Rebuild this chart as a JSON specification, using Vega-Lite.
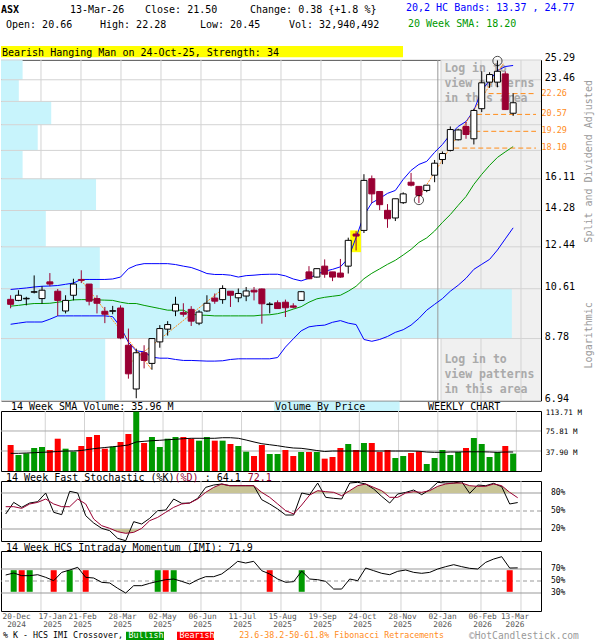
{
  "$schema": "https://vega.github.io/schema/vega-lite/v6.json",
  "padding": 0,
  "background": "white",
  "bounds": "flush",
  "spacing": 10,
  "config": {
    "view": {"stroke": "black", "strokeWidth": 1},
    "text": {"font": "DejaVu Sans Mono"},
    "axis": {"labelFont": "DejaVu Sans Mono"}
  },
  "datasets": {
    "weeks": [
      {"i":0,"o":10.19,"h":10.35,"l":9.85,"c":10.00,"v":49.3,"vc":"d","vs":33.5,"ub":10.58,"lb":9.27,"ma":9.93,"k":45,"d":57.2,"m":60},
      {"i":1,"o":10.15,"h":10.55,"l":10.12,"c":10.35,"v":30.3,"vc":"u","vs":33.5,"ub":10.61,"lb":9.31,"ma":9.96,"k":64.4,"d":57.2,"m":63.3},
      {"i":2,"o":10.21,"h":10.29,"l":9.96,"c":10.23,"v":33.5,"vc":"u","vs":34.1,"ub":10.64,"lb":9.35,"ma":10.00,"k":56.1,"d":54.4,"m":58.9},
      {"i":3,"o":10.47,"h":11.16,"l":10.42,"c":10.49,"v":43.6,"vc":"u","vs":34.7,"ub":10.68,"lb":9.35,"ma":10.03,"k":63.3,"d":61.7,"m":58.9},
      {"i":4,"o":10.22,"h":10.71,"l":10.02,"c":10.55,"v":45.5,"vc":"u","vs":35.4,"ub":10.71,"lb":9.35,"ma":10.03,"k":65.5,"d":64.4,"m":60.5},
      {"i":5,"o":10.89,"h":11.26,"l":10.71,"c":10.80,"v":39.8,"vc":"d","vs":36.0,"ub":10.72,"lb":9.45,"ma":10.04,"k":80,"d":70,"m":56.1},
      {"i":6,"o":10.51,"h":10.60,"l":9.57,"c":10.15,"v":61.2,"vc":"d","vs":37.0,"ub":10.74,"lb":9.57,"ma":10.08,"k":47.8,"d":61.7,"m":50.5},
      {"i":7,"o":9.75,"h":10.35,"l":9.66,"c":10.15,"v":42.3,"vc":"u","vs":37.9,"ub":10.79,"lb":9.57,"ma":10.12,"k":43.9,"d":57.2,"m":64.4},
      {"i":8,"o":10.35,"h":11.02,"l":10.15,"c":10.80,"v":36.6,"vc":"u","vs":37.9,"ub":10.84,"lb":9.57,"ma":10.17,"k":82.8,"d":57.2,"m":68.3},
      {"i":9,"o":10.99,"h":11.38,"l":10.84,"c":10.95,"v":47.4,"vc":"d","vs":38.8,"ub":10.99,"lb":9.57,"ma":10.18,"k":80,"d":70,"m":72.8},
      {"i":10,"o":10.80,"h":10.80,"l":9.96,"c":10.12,"v":64.4,"vc":"d","vs":41.1,"ub":10.99,"lb":9.57,"ma":10.18,"k":42.2,"d":61.7,"m":56.1},
      {"i":11,"o":10.22,"h":10.35,"l":9.66,"c":10.04,"v":68.2,"vc":"d","vs":43.0,"ub":10.99,"lb":9.57,"ma":10.17,"k":30,"d":36.6,"m":55},
      {"i":12,"o":9.74,"h":9.90,"l":9.31,"c":9.63,"v":42.3,"vc":"d","vs":44.5,"ub":10.99,"lb":9.57,"ma":10.16,"k":21.1,"d":25.5,"m":47.8},
      {"i":13,"o":9.74,"h":9.94,"l":9.63,"c":9.76,"v":46.1,"vc":"u","vs":46.0,"ub":11.01,"lb":9.54,"ma":10.15,"k":17.2,"d":21.1,"m":46.7},
      {"i":14,"o":9.86,"h":9.96,"l":8.76,"c":8.80,"v":55.0,"vc":"d","vs":47.4,"ub":11.09,"lb":9.18,"ma":10.08,"k":4.4,"d":15.5,"m":37.8},
      {"i":15,"o":8.56,"h":9.12,"l":7.54,"c":7.68,"v":70.1,"vc":"d","vs":49.3,"ub":11.45,"lb":8.66,"ma":10.03,"k":0.5,"d":12.8,"m":30},
      {"i":16,"o":7.25,"h":8.45,"l":7.00,"c":8.32,"v":112.4,"vc":"u","vs":55.0,"ub":11.60,"lb":8.38,"ma":10.03,"k":32.2,"d":14.4,"m":42.2},
      {"i":17,"o":8.32,"h":8.56,"l":7.84,"c":8.08,"v":53.1,"vc":"d","vs":56.3,"ub":11.67,"lb":8.35,"ma":9.96,"k":28.3,"d":21.1,"m":42.2},
      {"i":18,"o":7.99,"h":8.78,"l":7.80,"c":8.78,"v":64.4,"vc":"u","vs":57.4,"ub":11.67,"lb":8.18,"ma":9.90,"k":37.8,"d":33.9,"m":46.1},
      {"i":19,"o":8.67,"h":9.24,"l":8.48,"c":9.12,"v":45.5,"vc":"u","vs":58.2,"ub":11.67,"lb":8.15,"ma":9.84,"k":50.5,"d":39.4,"m":49.4},
      {"i":20,"o":9.10,"h":9.38,"l":8.88,"c":9.26,"v":61.2,"vc":"u","vs":59.3,"ub":11.67,"lb":8.15,"ma":9.78,"k":51.6,"d":47.8,"m":52.2},
      {"i":21,"o":9.75,"h":10.29,"l":9.56,"c":10.00,"v":64.4,"vc":"u","vs":60.1,"ub":11.63,"lb":8.11,"ma":9.78,"k":70,"d":56.1,"m":53.3},
      {"i":22,"o":9.69,"h":10.04,"l":9.54,"c":9.63,"v":64.4,"vc":"d","vs":61.2,"ub":11.56,"lb":8.08,"ma":9.78,"k":62.8,"d":61.7,"m":49.4},
      {"i":23,"o":9.81,"h":9.93,"l":9.21,"c":9.38,"v":61.2,"vc":"d","vs":62.0,"ub":11.50,"lb":8.08,"ma":9.63,"k":63.3,"d":63.3,"m":45},
      {"i":24,"o":9.31,"h":9.78,"l":9.24,"c":9.71,"v":57.5,"vc":"u","vs":62.0,"ub":11.38,"lb":8.07,"ma":9.60,"k":71.1,"d":70,"m":52.2},
      {"i":25,"o":9.75,"h":10.35,"l":9.72,"c":10.04,"v":64.4,"vc":"u","vs":62.0,"ub":11.24,"lb":8.06,"ma":9.59,"k":89.4,"d":81.1,"m":57.2},
      {"i":26,"o":10.24,"h":10.42,"l":10.02,"c":10.12,"v":57.5,"vc":"d","vs":62.0,"ub":11.20,"lb":8.06,"ma":9.57,"k":93.3,"d":89.4,"m":57.2},
      {"i":27,"o":10.18,"h":10.75,"l":10.02,"c":10.62,"v":57.5,"vc":"u","vs":63.1,"ub":11.20,"lb":8.07,"ma":9.57,"k":95,"d":95,"m":61.7},
      {"i":28,"o":10.51,"h":10.51,"l":9.90,"c":10.35,"v":51.2,"vc":"d","vs":63.1,"ub":11.17,"lb":8.11,"ma":9.57,"k":92.2,"d":92.2,"m":71.6},
      {"i":29,"o":10.25,"h":10.62,"l":10.08,"c":10.42,"v":47.4,"vc":"u","vs":62.0,"ub":11.09,"lb":8.13,"ma":9.57,"k":92.2,"d":92.2,"m":82.8},
      {"i":30,"o":10.32,"h":10.68,"l":10.12,"c":10.52,"v":36.6,"vc":"u","vs":58.7,"ub":11.15,"lb":8.13,"ma":9.57,"k":92.2,"d":92.2,"m":80},
      {"i":31,"o":10.55,"h":10.68,"l":10.15,"c":10.48,"v":28.4,"vc":"d","vs":55.0,"ub":11.17,"lb":8.13,"ma":9.57,"k":92.2,"d":92.2,"m":82.8},
      {"i":32,"o":10.60,"h":10.62,"l":9.29,"c":10.02,"v":49.3,"vc":"d","vs":51.7,"ub":11.20,"lb":8.13,"ma":9.60,"k":68.9,"d":81.1,"m":67.2},
      {"i":33,"o":9.99,"h":10.08,"l":9.66,"c":10.01,"v":32.2,"vc":"u","vs":49.8,"ub":11.21,"lb":8.13,"ma":9.61,"k":61.7,"d":72.8,"m":61.7},
      {"i":34,"o":10.06,"h":10.15,"l":9.84,"c":9.84,"v":32.2,"vc":"u","vs":47.9,"ub":11.21,"lb":8.17,"ma":9.65,"k":53.3,"d":61.7,"m":53.3},
      {"i":35,"o":10.08,"h":10.18,"l":9.53,"c":9.87,"v":39.8,"vc":"d","vs":45.5,"ub":11.14,"lb":8.50,"ma":9.72,"k":43.3,"d":50.5,"m":47.8},
      {"i":36,"o":9.94,"h":10.04,"l":9.85,"c":9.89,"v":28.4,"vc":"d","vs":43.6,"ub":11.01,"lb":8.77,"ma":9.82,"k":43.3,"d":45,"m":48.9},
      {"i":37,"o":10.15,"h":10.52,"l":10.13,"c":10.49,"v":36.0,"vc":"u","vs":43.0,"ub":10.93,"lb":9.04,"ma":9.91,"k":80,"d":60,"m":66.6},
      {"i":38,"o":11.31,"h":11.56,"l":11.00,"c":11.02,"v":36.0,"vc":"d","vs":41.1,"ub":11.04,"lb":9.18,"ma":10.08,"k":77.2,"d":76.6,"m":53.3},
      {"i":39,"o":11.09,"h":11.45,"l":11.07,"c":11.45,"v":36.0,"vc":"u","vs":38.8,"ub":11.21,"lb":9.22,"ma":10.21,"k":96.6,"d":83.9,"m":52.2},
      {"i":40,"o":11.56,"h":11.86,"l":11.06,"c":11.21,"v":23.4,"vc":"d","vs":37.0,"ub":11.34,"lb":9.24,"ma":10.27,"k":72.8,"d":82.2,"m":49.4},
      {"i":41,"o":11.31,"h":11.31,"l":10.92,"c":11.09,"v":26.5,"vc":"d","vs":37.9,"ub":11.42,"lb":9.34,"ma":10.31,"k":71.1,"d":81.1,"m":36.6},
      {"i":42,"o":11.26,"h":11.88,"l":11.06,"c":11.09,"v":43.6,"vc":"d","vs":37.9,"ub":11.53,"lb":9.40,"ma":10.35,"k":70,"d":75.5,"m":36.6},
      {"i":43,"o":11.56,"h":12.88,"l":11.24,"c":12.75,"v":51.2,"vc":"u","vs":37.9,"ub":11.91,"lb":9.31,"ma":10.51,"k":96.6,"d":83.9,"m":53.3},
      {"i":44,"o":13.06,"h":13.20,"l":12.27,"c":12.96,"v":39.8,"vc":"d","vs":37.9,"ub":12.89,"lb":9.26,"ma":10.71,"k":97.8,"d":92.2,"m":50.5},
      {"i":45,"o":13.24,"h":16.39,"l":13.11,"c":16.01,"v":53.1,"vc":"u","vs":37.9,"ub":14.02,"lb":8.75,"ma":11.02,"k":95,"d":95,"m":71.6},
      {"i":46,"o":16.11,"h":16.31,"l":14.69,"c":15.21,"v":53.1,"vc":"d","vs":37.9,"ub":14.70,"lb":8.69,"ma":11.25,"k":86.6,"d":89.4,"m":67.2},
      {"i":47,"o":15.35,"h":15.35,"l":14.30,"c":14.60,"v":36.0,"vc":"d","vs":37.9,"ub":14.95,"lb":8.75,"ma":11.44,"k":74.4,"d":83.9,"m":62.8},
      {"i":48,"o":14.29,"h":14.63,"l":13.37,"c":13.84,"v":39.8,"vc":"d","vs":37.9,"ub":15.24,"lb":8.85,"ma":11.64,"k":63.3,"d":72.8,"m":60.5},
      {"i":49,"o":13.88,"h":14.93,"l":13.72,"c":14.93,"v":24.6,"vc":"u","vs":37.9,"ub":15.41,"lb":8.99,"ma":11.82,"k":78.3,"d":72.8,"m":66.1},
      {"i":50,"o":14.71,"h":15.30,"l":14.64,"c":15.21,"v":28.4,"vc":"u","vs":37.9,"ub":16.07,"lb":9.08,"ma":12.06,"k":81,"d":80,"m":68.3},
      {"i":51,"o":15.90,"h":16.47,"l":15.65,"c":15.72,"v":34.1,"vc":"d","vs":37.9,"ub":16.63,"lb":9.24,"ma":12.32,"k":85,"d":82.2,"m":64.4},
      {"i":52,"o":15.65,"h":15.65,"l":14.69,"c":15.13,"v":37.3,"vc":"d","vs":37.5,"ub":17.01,"lb":9.48,"ma":12.65,"k":77.2,"d":81.1,"m":62.8},
      {"i":53,"o":15.41,"h":15.72,"l":15.31,"c":15.72,"v":13.3,"vc":"u","vs":36.0,"ub":17.21,"lb":9.78,"ma":12.87,"k":85.5,"d":83.9,"m":64.4},
      {"i":54,"o":16.33,"h":17.30,"l":15.90,"c":17.09,"v":24.6,"vc":"u","vs":35.4,"ub":17.81,"lb":10.00,"ma":13.21,"k":97.8,"d":91.1,"m":70},
      {"i":55,"o":17.33,"h":17.87,"l":17.03,"c":17.73,"v":39.8,"vc":"u","vs":35.4,"ub":18.35,"lb":10.22,"ma":13.65,"k":96.6,"d":95,"m":73.9},
      {"i":56,"o":17.94,"h":19.65,"l":17.87,"c":19.42,"v":30.3,"vc":"u","vs":36.0,"ub":19.06,"lb":10.51,"ma":14.06,"k":96.6,"d":96.6,"m":77.2},
      {"i":57,"o":18.68,"h":19.48,"l":18.63,"c":19.39,"v":36.0,"vc":"u","vs":36.0,"ub":19.65,"lb":10.75,"ma":14.56,"k":98.9,"d":96.6,"m":73.9},
      {"i":58,"o":19.65,"h":19.99,"l":18.75,"c":19.06,"v":43.6,"vc":"d","vs":36.4,"ub":20.02,"lb":11.04,"ma":15.06,"k":79.4,"d":92.2,"m":71.1},
      {"i":59,"o":18.75,"h":21.02,"l":18.35,"c":20.88,"v":62.5,"vc":"u","vs":36.4,"ub":20.88,"lb":11.42,"ma":15.77,"k":93.3,"d":91.1,"m":70},
      {"i":60,"o":21.02,"h":24.23,"l":20.75,"c":23.19,"v":51.2,"vc":"u","vs":36.4,"ub":22.52,"lb":11.64,"ma":16.38,"k":92.2,"d":91.1,"m":81.1},
      {"i":61,"o":23.25,"h":24.14,"l":22.75,"c":23.93,"v":26.5,"vc":"u","vs":36.0,"ub":23.40,"lb":11.86,"ma":16.95,"k":96.1,"d":95,"m":86.6},
      {"i":62,"o":23.25,"h":25.25,"l":22.80,"c":24.23,"v":36.0,"vc":"u","vs":35.4,"ub":24.30,"lb":12.29,"ma":17.47,"k":90.5,"d":92.2,"m":90.5},
      {"i":63,"o":23.99,"h":24.23,"l":20.92,"c":20.95,"v":47.4,"vc":"d","vs":36.0,"ub":24.67,"lb":12.82,"ma":17.84,"k":61.7,"d":81.1,"m":71.6},
      {"i":64,"o":20.66,"h":22.28,"l":20.45,"c":21.50,"v":32.94,"vc":"u","vs":35.96,"ub":24.77,"lb":13.37,"ma":18.20,"k":64.1,"d":72.1,"m":71.9}
    ],
    "xgrid": [{"g":4.41},{"g":9.41},{"g":14.41},{"g":19.41},{"g":24.41},{"g":29.41},{"g":34.41},{"g":39.41},{"g":44.41},{"g":49.41},{"g":54.41},{"g":59.41},{"g":64.41}],
    "pgrid": [{"v":6.94},{"v":8.78},{"v":10.61},{"v":12.44},{"v":14.28},{"v":16.11},{"v":17.94},{"v":19.78},{"v":21.61},{"v":23.46},{"v":25.29}],
    "plab": [{"v":6.94},{"v":8.78},{"v":10.61},{"v":12.44},{"v":14.28},{"v":16.11},{"v":23.46},{"v":25.29}],
    "vbp": [
      {"lo":6.94,"hi":8.78,"vol":193},{"lo":8.78,"hi":10.61,"vol":946},{"lo":10.61,"hi":12.44,"vol":183},
      {"lo":12.44,"hi":14.28,"vol":83},{"lo":14.28,"hi":16.11,"vol":176},{"lo":16.11,"hi":17.94,"vol":40},
      {"lo":17.94,"hi":19.78,"vol":68},{"lo":19.78,"hi":21.61,"vol":93},{"lo":21.61,"hi":23.46,"vol":33},
      {"lo":23.46,"hi":25.29,"vol":40}
    ],
    "fib": [{"x0":60.87,"lvl":22.26},{"x0":59.41,"lvl":20.57},{"x0":58.16,"lvl":19.29},{"x0":56.5,"lvl":18.10}],
    "zig": [
      {"s":"a","i":9,"p":10.95},{"s":"a","i":18,"p":7.80},
      {"s":"b","i":15.04,"p":7.97},{"s":"b","i":27.1,"p":10.62},
      {"s":"c","i":52,"p":15.03},{"s":"c","i":62.75,"p":24.93}
    ],
    "circ": [{"i":52,"p":14.86},{"i":62,"p":25.2}],
    "xover": [
      {"i":1,"s":"Bullish"},{"i":2,"s":"Bearish"},{"i":3,"s":"Bullish"},{"i":6,"s":"Bearish"},
      {"i":8,"s":"Bullish"},{"i":10,"s":"Bearish"},{"i":19,"s":"Bullish"},{"i":20,"s":"Bearish"},
      {"i":21,"s":"Bullish"},{"i":33,"s":"Bearish"},{"i":37,"s":"Bullish"},{"i":63,"s":"Bearish"}
    ]
  },
  "vconcat": [
    {
      "width": 600,
      "height": 49.5,
      "view": {"stroke": null},
      "data": {"values": [{}]},
      "layer": [
        {
          "mark": {"type": "rect", "color": "#ffff00"},
          "encoding": {
            "x": {"datum": 0, "type": "quantitative", "scale": {"domain": [0, 600], "nice": false, "zero": false}, "axis": null},
            "x2": {"datum": 402},
            "y": {"datum": 46, "type": "quantitative", "scale": {"domain": [0, 49.5], "nice": false, "zero": false, "reverse": true}, "axis": null},
            "y2": {"datum": 57.3}
          }
        },
        {"mark": {"type": "text", "align": "left", "baseline": "alphabetic", "fontSize": 10, "fontWeight": "bold"},
         "encoding": {"x": {"datum": 0, "type": "quantitative"}, "y": {"datum": 13, "type": "quantitative"}, "text": {"value": "ASX"}}},
        {"mark": {"type": "text", "align": "left", "baseline": "alphabetic", "fontSize": 10},
         "encoding": {"x": {"datum": 69, "type": "quantitative"}, "y": {"datum": 13, "type": "quantitative"}, "text": {"value": "13-Mar-26"}}},
        {"mark": {"type": "text", "align": "left", "baseline": "alphabetic", "fontSize": 10},
         "encoding": {"x": {"datum": 144, "type": "quantitative"}, "y": {"datum": 13, "type": "quantitative"}, "text": {"value": "Close: 21.50"}}},
        {"mark": {"type": "text", "align": "left", "baseline": "alphabetic", "fontSize": 10},
         "encoding": {"x": {"datum": 249, "type": "quantitative"}, "y": {"datum": 13, "type": "quantitative"}, "text": {"value": "Change: 0.38 {+1.8 %}"}}},
        {"mark": {"type": "text", "align": "left", "baseline": "alphabetic", "fontSize": 10, "color": "#0000ff"},
         "encoding": {"x": {"datum": 405, "type": "quantitative"}, "y": {"datum": 10.7, "type": "quantitative"}, "text": {"value": "20,2 HC Bands: 13.37 , 24.77"}}},
        {"mark": {"type": "text", "align": "left", "baseline": "alphabetic", "fontSize": 10},
         "encoding": {"x": {"datum": 5, "type": "quantitative"}, "y": {"datum": 28.3, "type": "quantitative"}, "text": {"value": "Open: 20.66"}}},
        {"mark": {"type": "text", "align": "left", "baseline": "alphabetic", "fontSize": 10},
         "encoding": {"x": {"datum": 99, "type": "quantitative"}, "y": {"datum": 28.3, "type": "quantitative"}, "text": {"value": "High: 22.28"}}},
        {"mark": {"type": "text", "align": "left", "baseline": "alphabetic", "fontSize": 10},
         "encoding": {"x": {"datum": 199, "type": "quantitative"}, "y": {"datum": 28.3, "type": "quantitative"}, "text": {"value": "Low: 20.45"}}},
        {"mark": {"type": "text", "align": "left", "baseline": "alphabetic", "fontSize": 10},
         "encoding": {"x": {"datum": 288, "type": "quantitative"}, "y": {"datum": 28.3, "type": "quantitative"}, "text": {"value": "Vol: 32,940,492"}}},
        {"mark": {"type": "text", "align": "left", "baseline": "alphabetic", "fontSize": 10, "color": "#009900"},
         "encoding": {"x": {"datum": 407, "type": "quantitative"}, "y": {"datum": 26.7, "type": "quantitative"}, "text": {"value": "20 Week SMA: 18.20"}}},
        {"mark": {"type": "text", "align": "left", "baseline": "alphabetic", "fontSize": 10},
         "encoding": {"x": {"datum": 1, "type": "quantitative"}, "y": {"datum": 56.2, "type": "quantitative"}, "text": {"value": "Bearish Hanging Man on 24-Oct-25, Strength: 34"}}}
      ]
    },
    {
      "width": 540,
      "height": 340.5,
      "data": {"name": "weeks"},
      "resolve": {"scale": {"x": "independent"}},
      "layer": [
        {
          "layer": [
            {
              "data": {"values": [{"x0": 54.41, "x1": 66.9125, "p0": 6.94, "p1": 25.29}]},
              "mark": {"type": "rect", "color": "#f0f0f0"},
              "encoding": {
                "x": {"field": "x0", "type": "quantitative", "scale": {"domain": [-0.5875, 66.9125], "nice": false, "zero": false}, "axis": null},
                "x2": {"field": "x1"},
                "y": {"field": "p0", "type": "quantitative", "scale": {"type": "log", "domain": [6.94, 25.29], "nice": false, "zero": false}, "axis": null},
                "y2": {"field": "p1"}
              }
            },
            {
              "data": {"name": "xgrid"},
              "mark": {"type": "rule", "color": "#d3d3d3"},
              "encoding": {"x": {"field": "g", "type": "quantitative", "axis": null}}
            }
          ]
        },
        {
          "data": {"name": "vbp"},
          "mark": {"type": "rect", "color": "#c8f4fc"},
          "encoding": {
            "x": {"field": "vol", "type": "quantitative", "scale": {"domain": [0, 1000], "nice": false, "zero": true}, "axis": null},
            "x2": {"datum": 0},
            "y": {"field": "lo", "type": "quantitative", "axis": null},
            "y2": {"field": "hi"}
          }
        },
        {
          "layer": [
            {
              "data": {"name": "pgrid"},
              "mark": {"type": "rule", "color": "#d3d3d3"},
              "encoding": {
                "y": {"field": "v", "type": "quantitative", "scale": {"type": "log", "domain": [6.94, 25.29], "nice": false, "zero": false}, "axis": null}
              }
            },
            {
              "data": {"values": [{"g": 54.41}]},
              "mark": {"type": "rule", "color": "#999999"},
              "encoding": {"x": {"field": "g", "type": "quantitative", "scale": {"domain": [-0.5875, 66.9125], "nice": false, "zero": false}, "axis": null}}
            },
            {
              "data": {"values": [{}]},
              "mark": {"type": "text", "align": "left", "baseline": "alphabetic", "fontSize": 11.5, "fontWeight": "bold", "color": "#aaaaaa", "lineHeight": 15},
              "encoding": {"x": {"datum": 55.25, "type": "quantitative"}, "y": {"datum": 24.14, "type": "quantitative"}, "text": {"value": ["Log in to", "view patterns", "in this area"]}}
            },
            {
              "data": {"values": [{}]},
              "mark": {"type": "text", "align": "left", "baseline": "alphabetic", "fontSize": 11.5, "fontWeight": "bold", "color": "#aaaaaa", "lineHeight": 15},
              "encoding": {"x": {"datum": 55.25, "type": "quantitative"}, "y": {"datum": 7.99, "type": "quantitative"}, "text": {"value": ["Log in to", "view patterns", "in this area"]}}
            },
            {
              "data": {"values": [{"x0": 43.25, "x1": 44.62, "p0": 12.19, "p1": 13.24}]},
              "mark": {"type": "rect", "color": "#ffff00"},
              "encoding": {"x": {"field": "x0", "type": "quantitative"}, "x2": {"field": "x1"}, "y": {"field": "p0", "type": "quantitative"}, "y2": {"field": "p1"}}
            },
            {
              "mark": {"type": "line", "color": "#0000ff", "strokeWidth": 1},
              "encoding": {"x": {"field": "i", "type": "quantitative"}, "y": {"field": "ub", "type": "quantitative"}}
            },
            {
              "mark": {"type": "line", "color": "#0000ff", "strokeWidth": 1},
              "encoding": {"x": {"field": "i", "type": "quantitative"}, "y": {"field": "lb", "type": "quantitative"}}
            },
            {
              "mark": {"type": "line", "color": "#009900", "strokeWidth": 1},
              "encoding": {"x": {"field": "i", "type": "quantitative"}, "y": {"field": "ma", "type": "quantitative"}}
            },
            {
              "data": {"name": "fib"},
              "mark": {"type": "rule", "color": "#ff8c1a", "strokeDash": [5, 3]},
              "encoding": {"x": {"field": "x0", "type": "quantitative"}, "x2": {"datum": 66.9125}, "y": {"field": "lvl", "type": "quantitative"}}
            },
            {
              "data": {"name": "fib"},
              "mark": {"type": "text", "align": "left", "baseline": "middle", "fontSize": 8.5, "color": "#ff8c1a", "dy": -1},
              "encoding": {"x": {"datum": 67.6, "type": "quantitative"}, "y": {"field": "lvl", "type": "quantitative"}, "text": {"field": "lvl", "type": "quantitative", "format": ".2f"}}
            },
            {
              "data": {"name": "plab"},
              "mark": {"type": "text", "align": "left", "baseline": "middle", "fontSize": 10, "color": "black", "dy": -2},
              "encoding": {"x": {"datum": 68.04, "type": "quantitative"}, "y": {"field": "v", "type": "quantitative"}, "text": {"field": "v", "type": "quantitative", "format": ".2f"}}
            },
            {
              "data": {"name": "zig"},
              "mark": {"type": "line", "color": "#ff8c1a", "strokeWidth": 1, "strokeDash": [2, 1]},
              "encoding": {"x": {"field": "i", "type": "quantitative"}, "y": {"field": "p", "type": "quantitative"}, "detail": {"field": "s", "type": "nominal"}}
            },
            {
              "mark": {"type": "rule", "strokeWidth": 1},
              "encoding": {
                "x": {"field": "i", "type": "quantitative"},
                "y": {"field": "l", "type": "quantitative"},
                "y2": {"field": "h"},
                "color": {"condition": {"test": "datum.c >= datum.o", "value": "black"}, "value": "#990033"}
              }
            },
            {
              "mark": {"type": "bar", "width": 6, "strokeWidth": 1},
              "encoding": {
                "x": {"field": "i", "type": "quantitative"},
                "y": {"field": "o", "type": "quantitative"},
                "y2": {"field": "c"},
                "fill": {"condition": {"test": "datum.c >= datum.o", "value": "white"}, "value": "#990033"},
                "stroke": {"condition": {"test": "datum.c >= datum.o", "value": "black"}, "value": "#990033"}
              }
            },
            {
              "data": {"name": "circ"},
              "mark": {"type": "point", "shape": "circle", "filled": false, "color": "black", "size": 85, "strokeWidth": 1},
              "encoding": {"x": {"field": "i", "type": "quantitative"}, "y": {"field": "p", "type": "quantitative"}}
            },
            {
              "data": {"values": [{}]},
              "mark": {"type": "text", "align": "center", "baseline": "middle", "fontSize": 10, "color": "#999999", "angle": 270},
              "encoding": {"x": {"datum": 73.66, "type": "quantitative"}, "y": {"datum": 17.21, "type": "quantitative"}, "text": {"value": "Split and Dividend Adjusted"}}
            },
            {
              "data": {"values": [{}]},
              "mark": {"type": "text", "align": "center", "baseline": "middle", "fontSize": 10, "color": "#999999", "angle": 270},
              "encoding": {"x": {"datum": 73.66, "type": "quantitative"}, "y": {"datum": 8.89, "type": "quantitative"}, "text": {"value": "Logarithmic"}}
            }
          ]
        }
      ]
    },
    {
      "width": 540,
      "height": 60,
      "data": {"name": "weeks"},
      "layer": [
        {
          "data": {"name": "xgrid"},
          "mark": {"type": "rule", "color": "#d3d3d3"},
          "encoding": {"x": {"field": "g", "type": "quantitative", "scale": {"domain": [-0.5875, 66.9125], "nice": false, "zero": false}, "axis": null}}
        },
        {
          "data": {"values": [{"v": 37.9}, {"v": 75.81}]},
          "mark": {"type": "rule", "color": "#aaaaaa"},
          "encoding": {
            "y": {"field": "v", "type": "quantitative", "scale": {"domain": [0, 113.71], "nice": false}, "axis": null}
          }
        },
        {
          "mark": {"type": "bar", "width": 6},
          "encoding": {
            "x": {"field": "i", "type": "quantitative"},
            "y": {"field": "v", "type": "quantitative"},
            "color": {"field": "vc", "type": "nominal", "scale": {"domain": ["u", "d"], "range": ["#009900", "#ff0000"]}, "legend": null}
          }
        },
        {
          "mark": {"type": "line", "color": "black", "strokeWidth": 1},
          "encoding": {"x": {"field": "i", "type": "quantitative"}, "y": {"field": "vs", "type": "quantitative"}}
        },
        {
          "data": {"values": [{"v": 37.9, "t": "37.90 M"}, {"v": 75.81, "t": "75.81 M"}, {"v": 113.71, "t": "113.71 M"}]},
          "mark": {"type": "text", "align": "left", "baseline": "middle", "fontSize": 7.5, "color": "black", "dy": 1.5},
          "encoding": {"x": {"datum": 68.16, "type": "quantitative"}, "y": {"field": "v", "type": "quantitative"}, "text": {"field": "t", "type": "nominal"}}
        },
        {
          "data": {"values": [{"x0": 33.54, "x1": 49.54, "y0": 113.71, "y1": 131.7}]},
          "mark": {"type": "rect", "color": "#c8f4fc"},
          "encoding": {"x": {"field": "x0", "type": "quantitative"}, "x2": {"field": "x1"}, "y": {"field": "y0", "type": "quantitative"}, "y2": {"field": "y1"}}
        },
        {
          "data": {"values": [{}]},
          "mark": {"type": "text", "align": "left", "baseline": "alphabetic", "fontSize": 10},
          "encoding": {"x": {"datum": 0.04, "type": "quantitative"}, "y": {"datum": 114.66, "type": "quantitative"}, "text": {"value": "14 Week SMA Volume: 35.96 M"}}
        },
        {
          "data": {"values": [{}]},
          "mark": {"type": "text", "align": "left", "baseline": "alphabetic", "fontSize": 10},
          "encoding": {"x": {"datum": 33.66, "type": "quantitative"}, "y": {"datum": 114.66, "type": "quantitative"}, "text": {"value": "Volume By Price"}}
        },
        {
          "data": {"values": [{}]},
          "mark": {"type": "text", "align": "left", "baseline": "alphabetic", "fontSize": 10},
          "encoding": {"x": {"datum": 53.16, "type": "quantitative"}, "y": {"datum": 114.66, "type": "quantitative"}, "text": {"value": "WEEKLY CHART"}}
        }
      ]
    },
    {
      "width": 540,
      "height": 60,
      "data": {"name": "weeks"},
      "resolve": {"scale": {"y": "independent"}},
      "layer": [
        {
          "layer": [
            {
              "data": {"name": "xgrid"},
              "mark": {"type": "rule", "color": "#d3d3d3"},
              "encoding": {"x": {"field": "g", "type": "quantitative", "scale": {"domain": [-0.5875, 66.9125], "nice": false, "zero": false}, "axis": null}}
            },
            {
              "data": {"values": [{"v": 20}, {"v": 80}]},
              "mark": {"type": "rule", "color": "#999999"},
              "encoding": {"y": {"field": "v", "type": "quantitative", "scale": {"domain": [0, 100], "nice": false}, "axis": null}}
            },
            {
              "data": {"values": [{"v": 50}]},
              "mark": {"type": "rule", "color": "#999999", "strokeDash": [4, 3]},
              "encoding": {"y": {"field": "v", "type": "quantitative", "axis": null}}
            }
          ]
        },
        {
          "mark": {"type": "area", "color": "#c8c496"},
          "encoding": {
            "x": {"field": "i", "type": "quantitative", "axis": null},
            "y": {"field": "d", "type": "quantitative", "scale": {"domain": [80, 100], "range": [12, 0], "clamp": true, "nice": false, "zero": false}, "axis": null},
            "y2": {"datum": 80}
          }
        },
        {
          "mark": {"type": "area", "color": "#c8c496"},
          "encoding": {
            "x": {"field": "i", "type": "quantitative", "axis": null},
            "y": {"field": "d", "type": "quantitative", "scale": {"domain": [0, 20], "range": [60, 48], "clamp": true, "nice": false, "zero": false}, "axis": null},
            "y2": {"datum": 20}
          }
        },
        {
          "layer": [
            {
              "mark": {"type": "line", "color": "black", "strokeWidth": 1},
              "encoding": {
                "x": {"field": "i", "type": "quantitative", "axis": null},
                "y": {"field": "k", "type": "quantitative", "scale": {"domain": [0, 100], "nice": false}, "axis": null}
              }
            },
            {
              "mark": {"type": "line", "color": "#990033", "strokeWidth": 1},
              "encoding": {"x": {"field": "i", "type": "quantitative"}, "y": {"field": "d", "type": "quantitative"}}
            },
            {
              "data": {"values": [{"v": 20, "t": "20%"}, {"v": 50, "t": "50%"}, {"v": 80, "t": "80%"}]},
              "mark": {"type": "text", "align": "left", "baseline": "middle", "fontSize": 8, "color": "black"},
              "encoding": {"x": {"datum": 68.16, "type": "quantitative"}, "y": {"field": "v", "type": "quantitative"}, "text": {"field": "t", "type": "nominal"}}
            },
            {
              "data": {"values": [{}]},
              "mark": {"type": "text", "align": "left", "baseline": "alphabetic", "fontSize": 10},
              "encoding": {"x": {"datum": 0.04, "type": "quantitative"}, "y": {"datum": 100.83, "type": "quantitative"}, "text": {"value": "14 Week Fast Stochastic (%K)"}}
            },
            {
              "data": {"values": [{}]},
              "mark": {"type": "text", "align": "left", "baseline": "alphabetic", "fontSize": 10, "color": "#990033"},
              "encoding": {"x": {"datum": 21.1, "type": "quantitative"}, "y": {"datum": 100.83, "type": "quantitative"}, "text": {"value": "(%D)"}}
            },
            {
              "data": {"values": [{}]},
              "mark": {"type": "text", "align": "left", "baseline": "alphabetic", "fontSize": 10},
              "encoding": {"x": {"datum": 24.87, "type": "quantitative"}, "y": {"datum": 100.83, "type": "quantitative"}, "text": {"value": ": 64.1"}}
            },
            {
              "data": {"values": [{}]},
              "mark": {"type": "text", "align": "left", "baseline": "alphabetic", "fontSize": 10, "color": "#990033"},
              "encoding": {"x": {"datum": 30.25, "type": "quantitative"}, "y": {"datum": 100.83, "type": "quantitative"}, "text": {"value": "72.1"}}
            }
          ]
        }
      ]
    },
    {
      "width": 540,
      "height": 60,
      "data": {"name": "weeks"},
      "layer": [
        {
          "data": {"name": "xgrid"},
          "mark": {"type": "rule", "color": "#d3d3d3"},
          "encoding": {
            "x": {
              "field": "g", "type": "quantitative",
              "scale": {"domain": [-0.5875, 66.9125], "nice": false, "zero": false},
              "axis": {
                "orient": "bottom",
                "values": [1.29, 5.79, 9.55, 14.55, 19.55, 24.55, 29.55, 34.55, 39.55, 44.55, 49.55, 54.55, 59.55, 63.6],
                "labelExpr": "[['20-Dec','17-Jan','21-Feb','28-Mar','02-May','06-Jun','11-Jul','15-Aug','19-Sep','24-Oct','28-Nov','02-Jan','06-Feb','13-Mar'][indexof([1.29, 5.79, 9.55, 14.55, 19.55, 24.55, 29.55, 34.55, 39.55, 44.55, 49.55, 54.55, 59.55, 63.6], datum.value)], ['2024','2025','2025','2025','2025','2025','2025','2025','2025','2025','2025','2026','2026','2026'][indexof([1.29, 5.79, 9.55, 14.55, 19.55, 24.55, 29.55, 34.55, 39.55, 44.55, 49.55, 54.55, 59.55, 63.6], datum.value)]]",
                "grid": false, "ticks": false, "domain": false, "title": null,
                "labelFontSize": 7.8, "labelColor": "#555555", "labelLineHeight": 8,
                "labelPadding": 1, "labelBaseline": "top", "labelOverlap": false, "labelFlush": false
              }
            }
          }
        },
        {
          "data": {"values": [{"v": 30}, {"v": 70}]},
          "mark": {"type": "rule", "color": "#999999"},
          "encoding": {
            "y": {"field": "v", "type": "quantitative", "scale": {"domain": [0, 100], "nice": false}, "axis": null}
          }
        },
        {
          "data": {"values": [{"v": 50}]},
          "mark": {"type": "rule", "color": "#999999", "strokeDash": [4, 3]},
          "encoding": {"y": {"field": "v", "type": "quantitative"}}
        },
        {
          "data": {"name": "xover"},
          "mark": {"type": "rule", "strokeWidth": 6, "strokeCap": "butt"},
          "encoding": {
            "x": {"field": "i", "type": "quantitative"},
            "y": {"datum": 32, "type": "quantitative"},
            "y2": {"datum": 68},
            "color": {"field": "s", "type": "nominal", "scale": {"domain": ["Bullish", "Bearish"], "range": ["#009900", "#ff0000"]}, "legend": null}
          }
        },
        {
          "mark": {"type": "line", "color": "black", "strokeWidth": 1},
          "encoding": {"x": {"field": "i", "type": "quantitative"}, "y": {"field": "m", "type": "quantitative"}}
        },
        {
          "data": {"values": [{"v": 30, "t": "30%"}, {"v": 50, "t": "50%"}, {"v": 70, "t": "70%"}]},
          "mark": {"type": "text", "align": "left", "baseline": "middle", "fontSize": 8, "color": "black"},
          "encoding": {"x": {"datum": 68.16, "type": "quantitative"}, "y": {"field": "v", "type": "quantitative"}, "text": {"field": "t", "type": "nominal"}}
        },
        {
          "data": {"values": [{}]},
          "mark": {"type": "text", "align": "left", "baseline": "alphabetic", "fontSize": 10},
          "encoding": {"x": {"datum": 0.04, "type": "quantitative"}, "y": {"datum": 100.83, "type": "quantitative"}, "text": {"value": "14 Week HCS Intraday Momentum (IMI): 71.9"}}
        }
      ]
    },
    {
      "width": 600,
      "height": 20,
      "view": {"stroke": null},
      "data": {"values": [{}]},
      "layer": [
        {
          "mark": {"type": "text", "align": "left", "baseline": "alphabetic", "fontSize": 8.3},
          "encoding": {
            "x": {"datum": 2, "type": "quantitative", "scale": {"domain": [0, 600], "nice": false, "zero": false}, "axis": null},
            "y": {"datum": 17.3, "type": "quantitative", "scale": {"domain": [0, 20], "nice": false, "zero": false, "reverse": true}, "axis": null},
            "text": {"value": "% K - HCS IMI Crossover,"}
          }
        },
        {"mark": {"type": "rect", "color": "#009900"},
         "encoding": {"x": {"datum": 125, "type": "quantitative"}, "x2": {"datum": 163}, "y": {"datum": 10.7, "type": "quantitative"}, "y2": {"datum": 19.3}}},
        {"mark": {"type": "text", "align": "left", "baseline": "alphabetic", "fontSize": 8.3, "color": "white"},
         "encoding": {"x": {"datum": 127.5, "type": "quantitative"}, "y": {"datum": 17.3, "type": "quantitative"}, "text": {"value": "Bullish"}}},
        {"mark": {"type": "rect", "color": "#ff0000"},
         "encoding": {"x": {"datum": 176, "type": "quantitative"}, "x2": {"datum": 213}, "y": {"datum": 10.7, "type": "quantitative"}, "y2": {"datum": 19.3}}},
        {"mark": {"type": "text", "align": "left", "baseline": "alphabetic", "fontSize": 8.3, "color": "white"},
         "encoding": {"x": {"datum": 178.5, "type": "quantitative"}, "y": {"datum": 17.3, "type": "quantitative"}, "text": {"value": "Bearish"}}},
        {"mark": {"type": "text", "align": "left", "baseline": "alphabetic", "fontSize": 8.3, "color": "#ff8c1a"},
         "encoding": {"x": {"datum": 238.3, "type": "quantitative"}, "y": {"datum": 17.3, "type": "quantitative"}, "text": {"value": "23.6-38.2-50-61.8% Fibonacci Retracements"}}},
        {"mark": {"type": "text", "align": "left", "baseline": "alphabetic", "fontSize": 9.6, "color": "#999999"},
         "encoding": {"x": {"datum": 468, "type": "quantitative"}, "y": {"datum": 17.6, "type": "quantitative"}, "text": {"value": "©HotCandlestick.com"}}}
      ]
    }
  ]
}
